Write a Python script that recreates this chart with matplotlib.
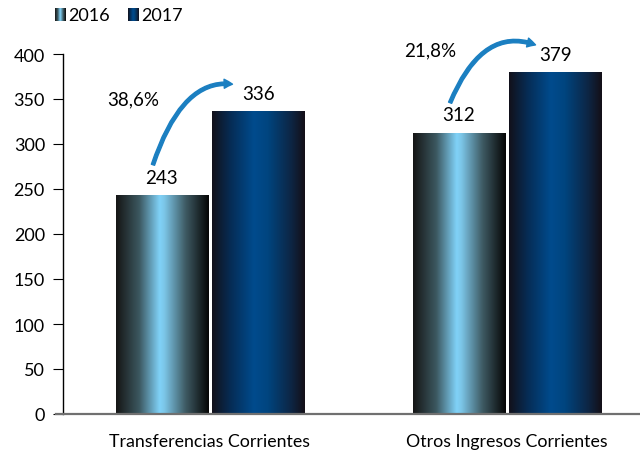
import numpy as np
import matplotlib.pyplot as plt
from matplotlib.patches import FancyArrowPatch
from matplotlib.colors import LinearSegmentedColormap

plt.rcParams['font.family'] = ['Lato', 'DejaVu Sans']

# data
categories = ['Transferencias Corrientes', 'Otros Ingresos Corrientes']
years = ['2016', '2017']
vals_2016 = [243, 312]
vals_2017 = [336, 379]
growth = ['38,6%', '21,8%']

# where the growth labels and arrow heads sit
growth_label_y = [350, 405]
arrow_end_dx = [0.085, 0.105]
arrow_angles = [(72, -10), (68, -22)]

# horizontal shading for the bars
cmap_2016 = LinearSegmentedColormap.from_list(
    'c16', [(0.0, '#151515'), (0.25, '#3c5860'), (0.47, '#80d2f8'),
            (0.52, '#7cc6e8'), (0.75, '#3e5a63'), (1.0, '#050505')])
cmap_2017 = LinearSegmentedColormap.from_list(
    'c17', [(0.0, '#12111a'), (0.2, '#062c55'), (0.45, '#004b8d'),
            (0.6, '#00457f'), (0.85, '#0d2645'), (1.0, '#140f17')])
grad = np.linspace(0, 1, 256).reshape(1, -1)

fig = plt.figure(figsize=(6.4, 4.56), dpi=100)
ax = fig.add_axes([63 / 640, 41 / 456, 1 - 63 / 640, 360 / 456])

x = np.arange(len(categories))
w = 0.31
off = 0.162

def shaded_bars(xpos, heights, cmap):
    bars = ax.bar(xpos, heights, w, color='none', edgecolor='none')
    for b in bars:
        x0, y0 = b.get_x(), b.get_y()
        ax.imshow(grad, cmap=cmap, aspect='auto', interpolation='bicubic',
                  extent=[x0, x0 + b.get_width(), y0, y0 + b.get_height()],
                  zorder=2)
    return bars

shaded_bars(x - off, vals_2016, cmap_2016)
shaded_bars(x + off, vals_2017, cmap_2017)

for xi, v in zip(x - off, vals_2016):
    ax.annotate(str(v), (xi, v), xytext=(0, 7), textcoords='offset points',
                ha='center', va='bottom', fontsize=13.5)
for xi, v in zip(x + off, vals_2017):
    ax.annotate(str(v), (xi, v), xytext=(0, 7), textcoords='offset points',
                ha='center', va='bottom', fontsize=13.5)

# growth arrows from the 2016 label to the 2017 bar
for xi, v16, v17, g, gy, dx, (a_start, a_end) in zip(
        x, vals_2016, vals_2017, growth, growth_label_y, arrow_end_dx, arrow_angles):
    start = (xi - 0.195, v16 + 31)
    end = (xi + dx, v17 + 30)
    arr = FancyArrowPatch(start, end,
                          connectionstyle=f'angle3,angleA={a_start},angleB={a_end}',
                          arrowstyle='simple,head_width=6.5,head_length=6,tail_width=2.4',
                          color='#1b7fc1', clip_on=False, zorder=4)
    ax.add_patch(arr)
    ax.text(xi - 0.26, gy, g, ha='center', va='center', fontsize=13.5)

ax.set_xlim(-0.495, 1.448)
ax.set_ylim(0, 400)
ax.set_yticks(np.arange(0, 401, 50))
ax.set_xticks(x)
ax.set_xticklabels(categories, fontsize=12.8)
ax.tick_params(axis='y', labelsize=13, length=7, direction='out', pad=6)
ax.tick_params(axis='x', length=0, pad=14)
for s in ['top', 'right']:
    ax.spines[s].set_visible(False)
ax.spines['left'].set_linewidth(1.0)
ax.spines['bottom'].set_color('#707070')
ax.spines['bottom'].set_linewidth(1.6)
ax.spines['bottom'].set_bounds(-0.52, 1.448)

# legend with shaded swatches
for cmap, lbl, lx in [(cmap_2016, years[0], 55), (cmap_2017, years[1], 128)]:
    sw = fig.add_axes([lx / 640, 1 - 22 / 456, 11 / 640, 13 / 456])
    sw.imshow(grad, cmap=cmap, aspect='auto')
    sw.axis('off')
    fig.text((lx + 13) / 640, 1 - 16 / 456, lbl, fontsize=13, va='center')

fig.savefig('out.png', dpi=100)
